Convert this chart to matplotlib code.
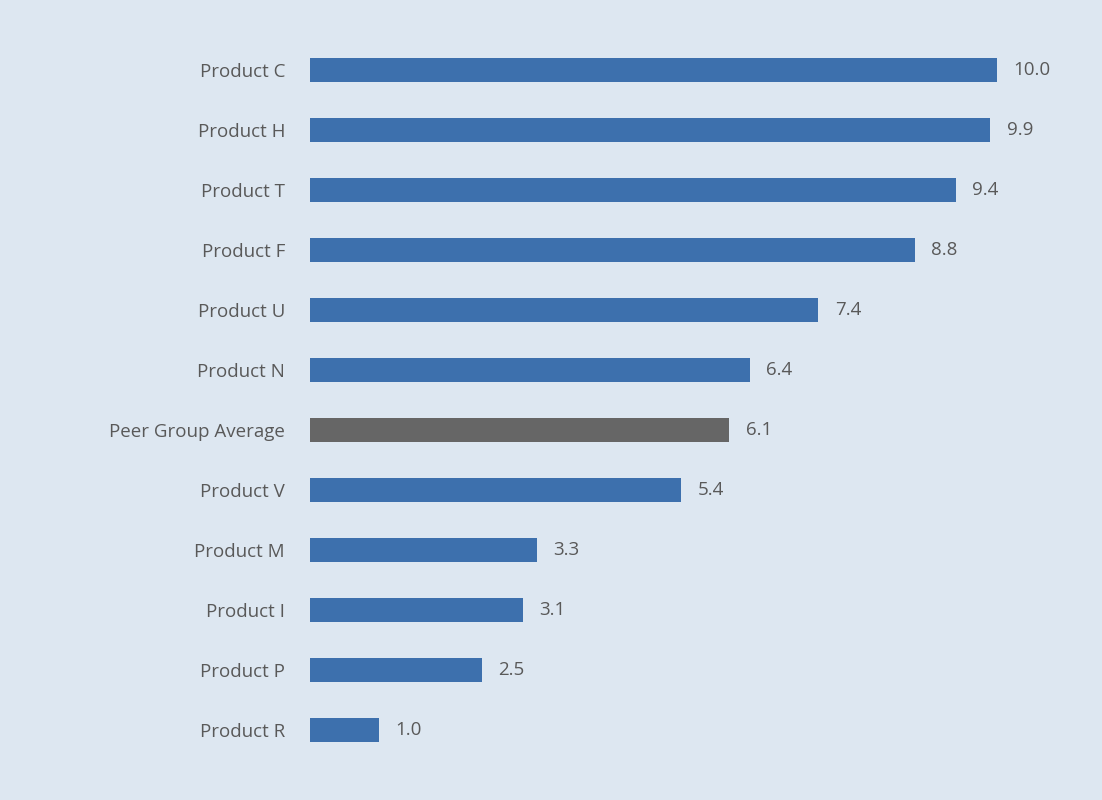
import matplotlib
matplotlib.use("Agg")
import matplotlib.pyplot as plt

categories = ["Product C", "Product H", "Product T", "Product F", "Product U", "Product N",
              "Peer Group Average", "Product V", "Product M", "Product I", "Product P", "Product R"]
values = [10.0, 9.9, 9.4, 8.8, 7.4, 6.4, 6.1, 5.4, 3.3, 3.1, 2.5, 1.0]
highlight = "Peer Group Average"

bg = "#dde7f1"
blue = "#3d70ad"
gray = "#666666"
text_color = "#595959"

plt.rcParams["font.family"] = ["Open Sans", "DejaVu Sans"]

fig = plt.figure(figsize=(11.02, 8), dpi=100, facecolor=bg)
ax = fig.add_axes([310 / 1102, 40 / 800, 687 / 1102, 720 / 800])
ax.set_facecolor(bg)

ypos = list(range(len(categories)))[::-1]
colors = [gray if c == highlight else blue for c in categories]
ax.barh(ypos, values, height=0.4, color=colors)

for y, v in zip(ypos, values):
    ax.annotate(f"{v:.1f}", (v, y), xytext=(12, 0), textcoords="offset points",
                va="center", ha="left", fontsize=13.5, color=text_color)

ax.set_xlim(0, 10)
ax.set_ylim(-0.5, len(categories) - 0.5)
ax.set_yticks(ypos)
ax.set_yticklabels(categories, fontsize=13.5, color=text_color)
ax.tick_params(axis="y", length=0, pad=18)
ax.set_xticks([])
for s in ax.spines.values():
    s.set_visible(False)

fig.savefig("out.png", dpi=100, facecolor=bg)
